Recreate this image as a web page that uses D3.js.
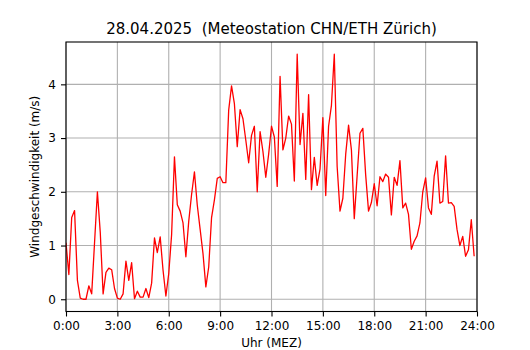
<!DOCTYPE html>
<html lang="de">
<head>
<meta charset="UTF-8">
<script src="https://d3js.org/d3.v7.min.js"></script>
<title>Windgeschwindigkeit 28.04.2025</title>
<style>
  body { margin: 0; background: #fff; }
  text { font-family: "DejaVu Sans", sans-serif; fill: #000; white-space: pre; }
</style>
</head>
<body>
<div id="chart"></div>
<script>
// 10-minute values, 0:00 .. 23:50
var stepMinutes = 10;
var windSpeed = [
  1.05, 0.46, 1.52, 1.65, 0.35, 0.02, 0.00, 0.00, 0.25, 0.10, 1.05, 2.00,
  1.25, 0.10, 0.50, 0.58, 0.55, 0.20, 0.02, 0.00, 0.10, 0.71, 0.35, 0.68,
  0.01, 0.15, 0.04, 0.04, 0.20, 0.03, 0.30, 1.14, 0.87, 1.16, 0.54, 0.06,
  0.48, 1.20, 2.65, 1.76, 1.64, 1.42, 0.79, 1.45, 1.95, 2.37, 1.75, 1.30,
  0.85, 0.23, 0.60, 1.52, 1.85, 2.25, 2.28, 2.17, 2.17, 3.52, 3.97, 3.64,
  2.84, 3.53, 3.36, 2.96, 2.54, 3.05, 3.22, 2.00, 3.12, 2.75, 2.27, 2.70,
  3.22, 3.02, 2.10, 4.15, 2.78, 3.00, 3.41, 3.26, 2.20, 4.56, 2.88, 3.46,
  2.23, 3.81, 2.04, 2.64, 2.12, 2.42, 3.38, 1.93, 3.22, 3.61, 4.56, 2.47,
  1.64, 1.88, 2.70, 3.24, 2.78, 1.50, 2.30, 3.09, 3.18, 2.31, 1.64, 1.80,
  2.15, 1.74, 2.28, 2.19, 2.33, 2.27, 1.57, 2.27, 2.12, 2.58, 1.70, 1.79,
  1.58, 0.93, 1.08, 1.18, 1.42, 2.00, 2.26, 1.70, 1.58, 2.29, 2.57, 1.79,
  1.82, 2.67, 1.79, 1.80, 1.73, 1.30, 1.00, 1.17, 0.80, 0.92, 1.48, 0.80
];
var xTicks = [0, 3, 6, 9, 12, 15, 18, 21, 24];
var yTicks = [0, 1, 2, 3, 4];
var titleText = "28.04.2025  (Meteostation CHN/ETH Z\u00fcrich)";
var xLabel = "Uhr (MEZ)";
var yLabel = "Windgeschwindigkeit (m/s)";

var W = 530, H = 350;
var margin = {top: 42, right: 53, bottom: 38.5, left: 66},
    width = W - margin.left - margin.right,
    height = H - margin.top - margin.bottom;
var labelSize = "12px";

var svg = d3.select("#chart").append("svg")
    .attr("width", W).attr("height", H);
var g = svg.append("g")
    .attr("transform", "translate(" + margin.left + "," + margin.top + ")");

var data = windSpeed.map(function(v, i) { return {h: i * stepMinutes / 60, v: v}; });

var x = d3.scaleLinear().domain([0, 24]).range([0, width]);
// matplotlib style 5% padding around the data range
var yMax = d3.max(windSpeed), yMin = 0, pad = (yMax - yMin) * 0.05;
var y = d3.scaleLinear().domain([yMin - pad, yMax + pad]).range([height, 0]);

// grid
g.append("g").selectAll("line").data(xTicks).enter().append("line")
    .attr("x1", function(d) { return x(d); }).attr("x2", function(d) { return x(d); })
    .attr("y1", 0).attr("y2", height)
    .attr("stroke", "#b0b0b0").attr("stroke-width", 1.1);
g.append("g").selectAll("line").data(yTicks).enter().append("line")
    .attr("y1", function(d) { return y(d); }).attr("y2", function(d) { return y(d); })
    .attr("x1", 0).attr("x2", width)
    .attr("stroke", "#b0b0b0").attr("stroke-width", 1.1);

// clip line to the axes
g.append("defs").append("clipPath").attr("id", "clip")
  .append("rect").attr("width", width).attr("height", height);

var line = d3.line()
    .x(function(d) { return x(d.h); })
    .y(function(d) { return y(d.v); });

g.append("path")
    .datum(data)
    .attr("clip-path", "url(#clip)")
    .attr("fill", "none")
    .attr("stroke", "#ff0000")
    .attr("stroke-width", 1.3)
    .attr("stroke-linejoin", "round")
    .attr("d", line);

// axes
var xAxis = g.append("g")
    .attr("transform", "translate(0," + height + ")")
    .call(d3.axisBottom(x).tickValues(xTicks).tickSize(5).tickPadding(5)
      .tickFormat(function(d) { return d + ":00"; }));
var yAxis = g.append("g")
    .call(d3.axisLeft(y).tickValues(yTicks).tickSize(5).tickPadding(5)
      .tickFormat(d3.format("d")));
[xAxis, yAxis].forEach(function(a) {
  a.select(".domain").remove();
  a.selectAll("line").attr("stroke", "#000").attr("stroke-width", 1.1);
  a.selectAll("text").style("font-size", labelSize).style("font-family", "DejaVu Sans");
});

// frame
g.append("rect")
    .attr("width", width).attr("height", height)
    .attr("fill", "none").attr("stroke", "#000").attr("stroke-width", 1.1);

// texts
svg.append("text")
    .attr("x", margin.left + width / 2).attr("y", 34)
    .attr("text-anchor", "middle")
    .style("font-size", "15px")
    .text(titleText);
svg.append("text")
    .attr("x", margin.left + width / 2).attr("y", 347)
    .attr("text-anchor", "middle")
    .style("font-size", labelSize)
    .text(xLabel);
svg.append("text")
    .attr("transform", "translate(39," + (margin.top + height / 2) + ") rotate(-90)")
    .attr("text-anchor", "middle")
    .style("font-size", labelSize)
    .text(yLabel);
</script>
</body>
</html>
